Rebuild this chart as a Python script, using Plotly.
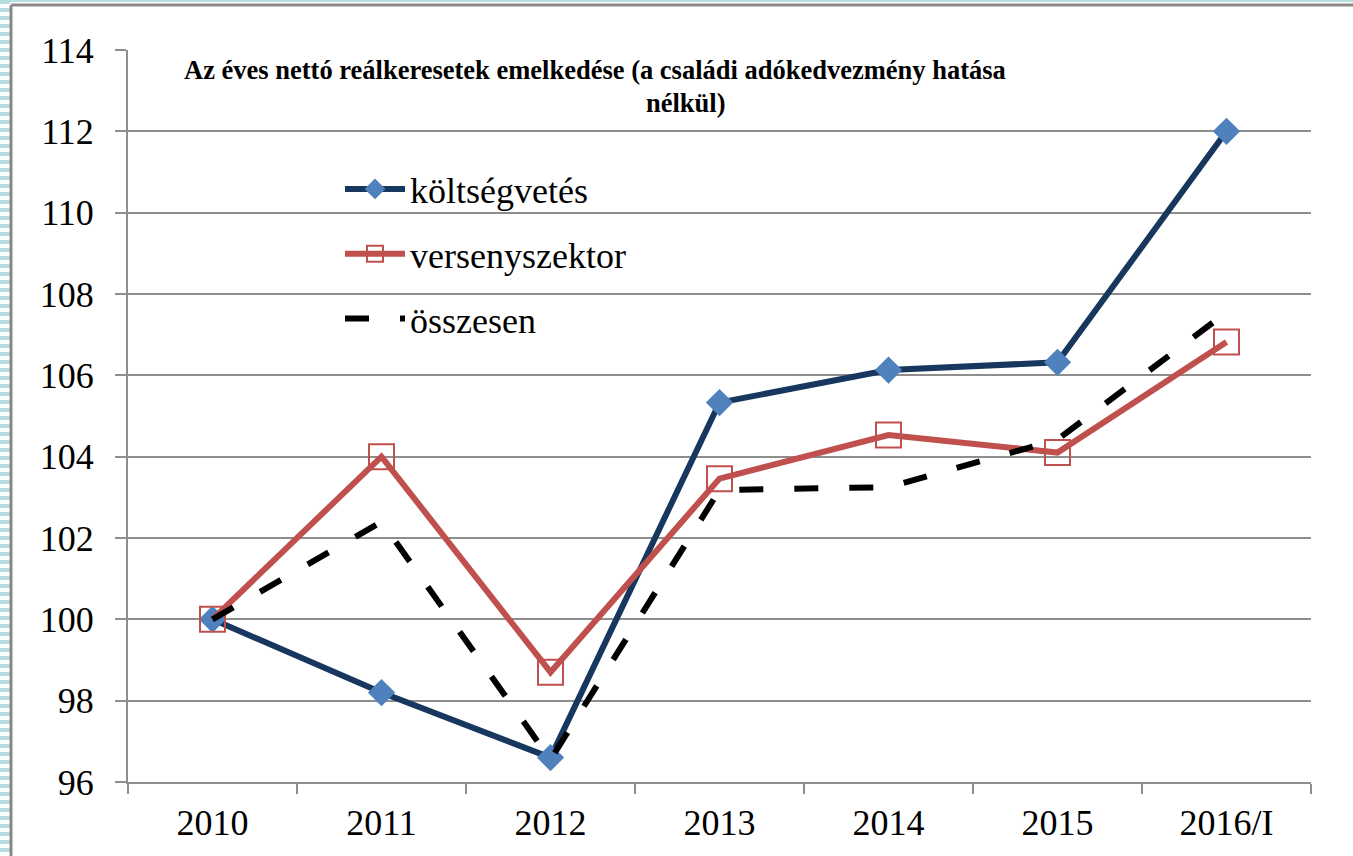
import plotly.graph_objects as go

categories = ["2010", "2011", "2012", "2013", "2014", "2015", "2016/I"]
koltsegvetes = [100.0, 98.2, 96.6, 105.33, 106.13, 106.32, 112.0]
versenyszektor = [100.0, 104.0, 98.7, 103.46, 104.53, 104.1, 106.82]
osszesen = [100.0, 102.4, 96.55, 103.18, 103.25, 104.42, 107.55]
y_ticks = [96, 98, 100, 102, 104, 106, 108, 110, 112, 114]

title_line1 = "Az éves nettó reálkeresetek emelkedése (a családi adókedvezmény hatása"
title_line2 = "nélkül)"

FONT = "Liberation Serif"
GRID = "#8E8E8E"

W, H = 1353, 856
L, R, T, B = 128, 42, 50, 74
PW, PH = W - L - R, H - T - B


def px(xp):
    return (xp - L) / PW


def py(yp):
    return (H - B - yp) / PH


fig = go.Figure()
fig.add_trace(go.Scatter(
    x=categories, y=koltsegvetes, name="költségvetés", mode="lines+markers",
    line=dict(color="#17375E", width=6),
    marker=dict(symbol="diamond", size=21, color="#4F81BD", line=dict(width=0)),
    legendgroup="a"))
fig.add_trace(go.Scatter(
    x=categories, y=versenyszektor, name="versenyszektor", mode="lines+markers",
    line=dict(color="#C0504D", width=6),
    marker=dict(symbol="square-open", size=25, color="#C0504D", line=dict(width=2, color="#C0504D")),
    legendgroup="b"))
fig.add_trace(go.Scatter(
    x=categories, y=osszesen, name="összesen", mode="lines",
    line=dict(color="#000000", width=6, dash="24px,31px"),
    legendgroup="c"))

shapes = []
# decorative frame: striped left band, top teal line, gray border
for i in range(0, H, 8):
    shapes.append(dict(type="rect", xref="paper", yref="paper",
                       x0=px(0), x1=px(10), y0=py(i + 4), y1=py(i),
                       fillcolor="#B6DDE0", line=dict(width=0), layer="below"))
shapes.append(dict(type="rect", xref="paper", yref="paper",
                   x0=px(0), x1=px(W), y0=py(2), y1=py(0),
                   fillcolor="#B6DDE0", line=dict(width=0), layer="below"))
shapes.append(dict(type="line", xref="paper", yref="paper",
                   x0=px(11), x1=px(11), y0=py(H), y1=py(5),
                   line=dict(color="#8A8A8A", width=3)))
shapes.append(dict(type="line", xref="paper", yref="paper",
                   x0=px(11), x1=px(W), y0=py(5), y1=py(5),
                   line=dict(color="#8A8A8A", width=3)))

fig.update_layout(
    width=W, height=H,
    margin=dict(l=L, r=R, t=T, b=B),
    paper_bgcolor="white", plot_bgcolor="white",
    font=dict(family=FONT, color="black", size=36),
    shapes=shapes,
    showlegend=True,
    legend=dict(x=px(340), y=py(159), xanchor="left", yanchor="top",
                bgcolor="rgba(0,0,0,0)", font=dict(family=FONT, size=36, color="black"),
                tracegroupgap=15, itemwidth=60),
    annotations=[
        dict(text="<b>" + title_line1 + "</b>", xref="paper", yref="paper",
             x=px(595), y=py(70), xanchor="center", yanchor="middle", showarrow=False,
             font=dict(family=FONT, size=26.5, color="black")),
        dict(text="<b>" + title_line2 + "</b>", xref="paper", yref="paper",
             x=px(686), y=py(103), xanchor="center", yanchor="middle", showarrow=False,
             font=dict(family=FONT, size=26.5, color="black")),
    ],
)
fig.update_xaxes(
    type="category", range=[-0.5, 6.5], tickson="boundaries",
    showgrid=False, showline=True, linecolor=GRID, linewidth=2,
    ticks="outside", ticklen=10, tickwidth=2, tickcolor=GRID,
    ticklabelstandoff=8, tickfont=dict(family=FONT, size=36, color="black"),
    zeroline=False,
)
fig.update_yaxes(
    range=[96, 114], tickmode="array", tickvals=y_ticks,
    showgrid=True, gridcolor=GRID, gridwidth=2,
    showline=True, linecolor=GRID, linewidth=2,
    ticks="outside", ticklen=11, tickwidth=2, tickcolor=GRID,
    ticklabelstandoff=14, tickfont=dict(family=FONT, size=36, color="black"),
    zeroline=False,
)

fig.write_html("out.html", config={"displayModeBar": False},
               post_script="document.body.style.margin='0';")
